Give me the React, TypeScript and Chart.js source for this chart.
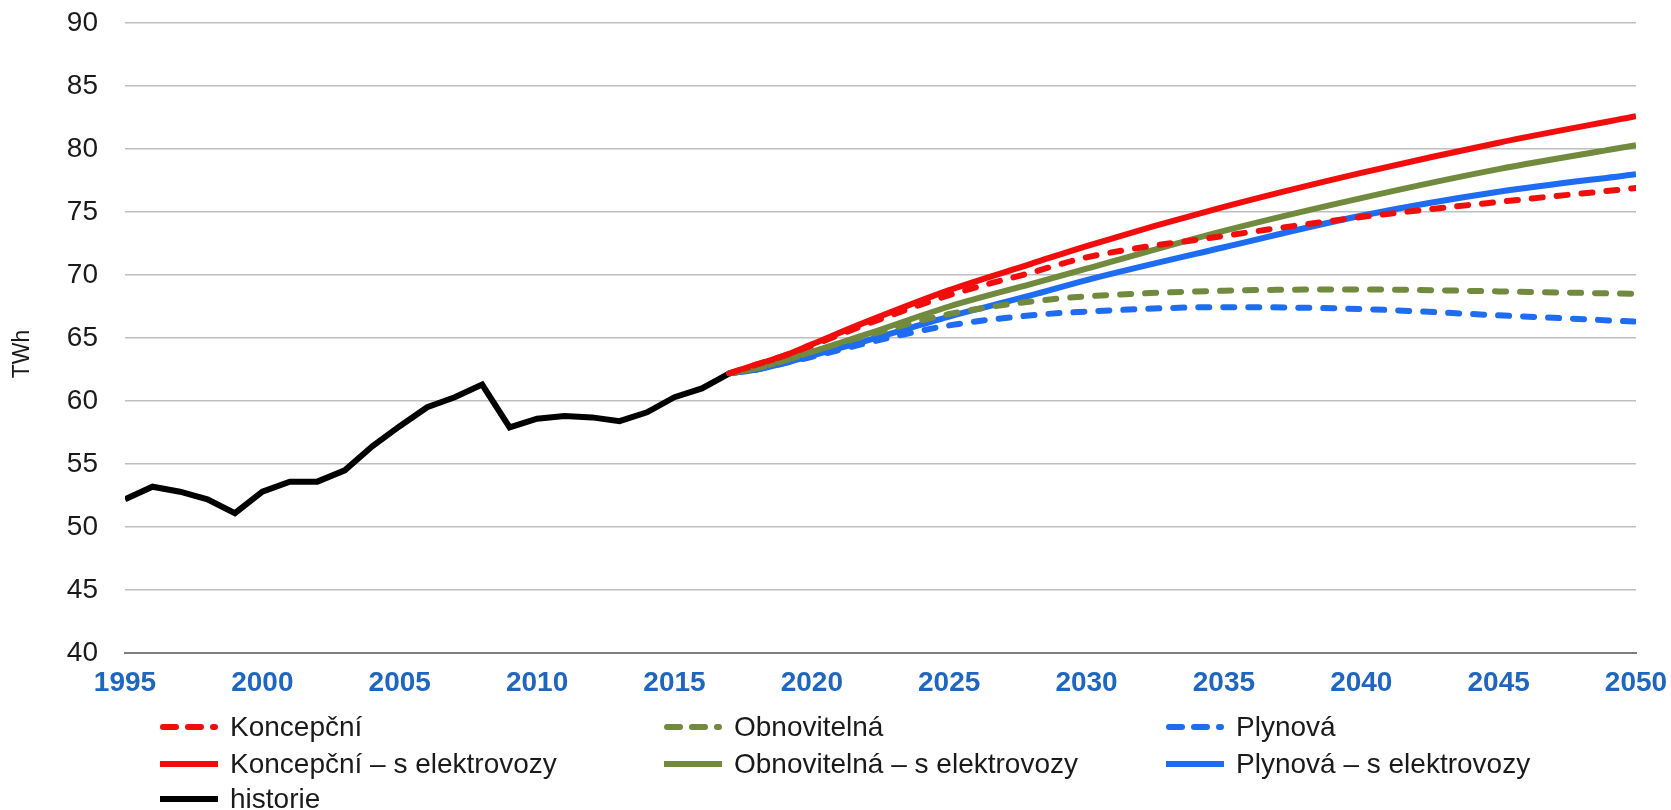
import { useEffect, useRef } from 'react';
import { Chart, registerables } from 'chart.js';

Chart.register(...registerables);

// ---- data ----
const histYears = [1995, 1996, 1997, 1998, 1999, 2000, 2001, 2002, 2003, 2004, 2005, 2006, 2007, 2008, 2009, 2010, 2011, 2012, 2013, 2014, 2015, 2016, 2017];
const historie = [52.2, 53.2, 52.8, 52.2, 51.1, 52.8, 53.6, 53.6, 54.5, 56.4, 58.0, 59.5, 60.3, 61.3, 57.9, 58.6, 58.8, 58.7, 58.4, 59.1, 60.3, 61.0, 62.2];

const projYears = [2017, 2018, 2019, 2020, 2022, 2025, 2028, 2030, 2035, 2040, 2045, 2050];
const koncepcni = [62.2, 62.9, 63.6, 64.4, 66.1, 68.4, 70.2, 71.4, 73.1, 74.6, 75.8, 76.9];
const obnovitelna = [62.2, 62.6, 63.2, 63.9, 65.2, 66.9, 67.9, 68.3, 68.75, 68.85, 68.7, 68.5];
const plynova = [62.2, 62.5, 63.0, 63.5, 64.6, 66.0, 66.8, 67.1, 67.45, 67.3, 66.8, 66.3];
const koncepcniEl = [62.2, 62.9, 63.6, 64.5, 66.3, 68.8, 70.9, 72.3, 75.4, 78.1, 80.5, 82.6];
const obnovitelnaEl = [62.2, 62.6, 63.2, 63.9, 65.3, 67.5, 69.3, 70.5, 73.5, 76.1, 78.4, 80.3];
const plynovaEl = [62.2, 62.5, 63.0, 63.6, 64.8, 66.7, 68.4, 69.6, 72.2, 74.7, 76.6, 78.0];

const seriesLabels = [
  'Koncepční',
  'Obnovitelná',
  'Plynová',
  'Koncepční – s elektrovozy',
  'Obnovitelná – s elektrovozy',
  'Plynová – s elektrovozy',
  'historie',
];

const xMin = 1995;
const xMax = 2050;
const yMin = 40;
const yMax = 90;
const yLabel = 'TWh     ';

// ---- styles ----
const RED = '#f20d0d';
const GREEN = '#718a3e';
const BLUE = '#1d6cf2';
const BLACK = '#000000';
const DASH = [11, 14];
const LW = 6;

const toPts = (xs: number[], ys: number[]) => xs.map((x, i) => ({ x, y: ys[i] }));

const gridLegend = {
  id: 'gridLegend',
  afterDraw(chart: any, _args: any, opts: any) {
    const ctx = chart.ctx as CanvasRenderingContext2D;
    ctx.save();
    chart.data.datasets.forEach((ds: any, i: number) => {
      const col = i % 3;
      const row = Math.floor(i / 3);
      const x0 = opts.colX[col];
      const y = opts.rowY[row];
      const dashed = ds.borderDash && ds.borderDash.length;
      ctx.beginPath();
      ctx.strokeStyle = ds.borderColor;
      ctx.lineWidth = 6;
      ctx.lineCap = dashed ? 'round' : 'butt';
      ctx.setLineDash(dashed ? [13, 12] : []);
      const inset = dashed ? 3 : 0;
      ctx.moveTo(x0 + inset, y);
      ctx.lineTo(x0 + opts.sampleW - inset, y);
      ctx.stroke();
      ctx.setLineDash([]);
      ctx.fillStyle = opts.color;
      ctx.font = opts.font;
      ctx.textBaseline = 'middle';
      ctx.textAlign = 'left';
      ctx.fillText(ds.label, x0 + opts.sampleW + opts.gap, y + 1);
    });
    ctx.restore();
  },
};

export default function App() {
  const ref = useRef<HTMLCanvasElement>(null);
  useEffect(() => {
    const lineDs = (label: string, data: number[], color: string, dashed: boolean) => ({
      label,
      data: toPts(projYears, data),
      borderColor: color,
      backgroundColor: color,
      borderWidth: LW,
      borderDash: dashed ? DASH : [],
      borderCapStyle: dashed ? 'round' : 'butt',
      pointRadius: 0,
      cubicInterpolationMode: 'monotone',
      fill: false,
    });
    const chart = new Chart(ref.current!, {
      type: 'line',
      data: {
        datasets: [
          lineDs(seriesLabels[0], koncepcni, RED, true),
          lineDs(seriesLabels[1], obnovitelna, GREEN, true),
          lineDs(seriesLabels[2], plynova, BLUE, true),
          lineDs(seriesLabels[3], koncepcniEl, RED, false),
          lineDs(seriesLabels[4], obnovitelnaEl, GREEN, false),
          lineDs(seriesLabels[5], plynovaEl, BLUE, false),
          {
            label: seriesLabels[6],
            data: toPts(histYears, historie),
            borderColor: BLACK,
            backgroundColor: BLACK,
            borderWidth: LW,
            borderJoinStyle: 'miter',
            pointRadius: 0,
            tension: 0,
            fill: false,
          },
        ] as any,
      },
      options: {
        animation: false,
        responsive: true,
        maintainAspectRatio: false,
        layout: { padding: { top: 23, right: 35, bottom: 0, left: 0 } },
        plugins: {
          legend: { display: false },
          tooltip: { enabled: false },
          gridLegend: {
            colX: [160, 664, 1166],
            rowY: [727, 764, 799],
            sampleW: 58,
            gap: 12,
            font: '28px "Liberation Sans", Arial, sans-serif',
            color: '#1a1a1a',
          },
        } as any,
        scales: {
          x: {
            type: 'linear',
            min: xMin,
            max: xMax,
            afterFit: (s: any) => {
              s.height = 157;
              s.paddingLeft = 0;
              s.paddingRight = 0;
            },
            grid: { display: false, drawTicks: false },
            border: { display: true, color: '#7f7f7f', width: 2 },
            ticks: {
              stepSize: 5,
              padding: 13,
              color: '#1f66c1',
              font: { family: '"Liberation Sans", Arial, sans-serif', size: 28, weight: 'bold' },
              callback: (v: any) => String(v),
              maxRotation: 0,
            },
          },
          y: {
            min: yMin,
            max: yMax,
            afterFit: (s: any) => {
              s.width = 125;
              s.paddingTop = 0;
              s.paddingBottom = 0;
            },
            grid: { color: '#bfbfbf', lineWidth: 1.5, drawTicks: false },
            border: { display: false },
            ticks: {
              stepSize: 5,
              padding: 27,
              color: '#1a1a1a',
              font: { family: '"Liberation Sans", Arial, sans-serif', size: 28 },
            },
            title: {
              display: true,
              text: yLabel,
              color: '#1a1a1a',
              padding: { top: 9, bottom: 0 },
              font: { family: '"Liberation Sans", Arial, sans-serif', size: 23 },
            },
          },
        },
      },
      plugins: [gridLegend],
    });
    return () => chart.destroy();
  }, []);
  return (
    <div style={{ position: 'fixed', left: 0, top: 0, width: 1671, height: 810, background: '#fff' }}>
      <canvas ref={ref} />
    </div>
  );
}
